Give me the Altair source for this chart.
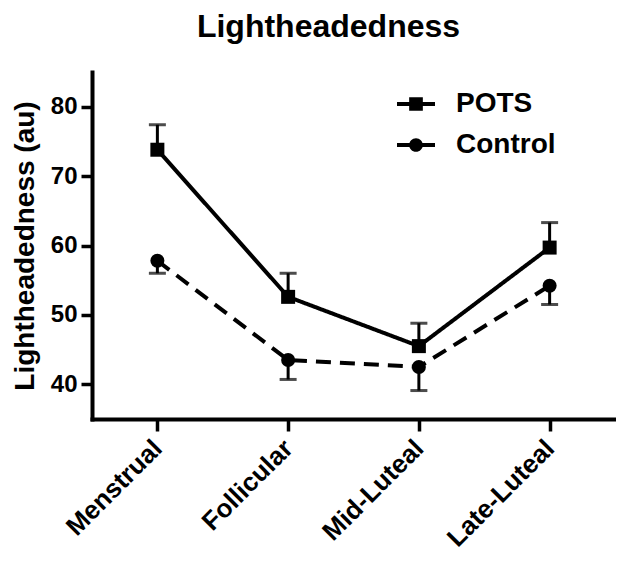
import altair as alt
import pandas as pd

phases = ["Menstrual", "Follicular", "Mid-Luteal", "Late-Luteal"]
groups = ["POTS", "Control"]
pots_mean = [73.8, 52.6, 45.5, 59.7]
pots_sem = [3.6, 3.4, 3.3, 3.6]
control_mean = [57.8, 43.5, 42.5, 54.2]
control_sem = [1.8, 2.8, 3.4, 2.7]
y_ticks = [40, 50, 60, 70, 80]

rows = []
for i, p in enumerate(phases):
    rows.append(dict(phase=p, group="POTS", mean=pots_mean[i], end=pots_mean[i] + pots_sem[i]))
    rows.append(dict(phase=p, group="Control", mean=control_mean[i], end=control_mean[i] - control_sem[i]))
df = pd.DataFrame(rows)

FONT = "Liberation Sans"

x_enc = alt.X(
    "phase:N", sort=phases,
    scale=alt.Scale(type="point", padding=0.5),
    axis=alt.Axis(
        title=None, labelAngle=315, labelAlign="right", labelBaseline="middle",
        labelFontSize=26, labelFontWeight="bold", labelFont=FONT, labelColor="black",
        labelPadding=13, tickSize=12, tickWidth=3.5, tickColor="black",
        domainWidth=4, domainColor="black", domainCap="square", grid=False,
    ),
)
y_scale = alt.Scale(domain=[35, 85], nice=False, zero=False)
y_enc = alt.Y(
    "mean:Q", scale=y_scale,
    axis=alt.Axis(
        values=y_ticks, title="Lightheadedness (au)", titleFontSize=28, titleFontWeight="bold",
        titleFont=FONT, titleColor="black", titlePadding=11,
        labelFontSize=24, labelFontWeight="bold", labelFont=FONT, labelColor="black",
        labelPadding=4, tickSize=11, tickWidth=3.5, tickColor="black",
        domainWidth=4, domainColor="black", domainCap="square", grid=False,
    ),
)

base = alt.Chart(df)

lines = base.mark_line(color="black", strokeWidth=4).encode(
    x=x_enc, y=y_enc,
    strokeDash=alt.StrokeDash("group:N", scale=alt.Scale(domain=groups, range=[[1, 0], [15, 9]]), legend=None),
    detail="group:N",
)

err_rule = base.mark_rule(color="black", strokeWidth=3).encode(
    x=alt.X("phase:N", sort=phases), y=alt.Y("mean:Q"), y2="end:Q"
)
err_cap = base.mark_tick(color="black", size=17, thickness=3, orient="horizontal").encode(
    x=alt.X("phase:N", sort=phases), y=alt.Y("end:Q")
)

points = base.mark_point(filled=True, color="black", opacity=1, size=196).encode(
    x=alt.X("phase:N", sort=phases), y=alt.Y("mean:Q"),
    shape=alt.Shape("group:N", scale=alt.Scale(domain=groups, range=["square", "circle"]), legend=None),
)

pots_sym = "M-1,-0.1H1V0.1H-1Z M-0.36,-0.36H0.36V0.36H-0.36Z"
ctrl_sym = "M-1,-0.1H1V0.1H-1Z M0.36,0A0.36,0.36 0 1,1 -0.36,0A0.36,0.36 0 1,1 0.36,0Z"

legend_layer = base.mark_point(filled=True, color="black", opacity=0).encode(
    x=alt.X("phase:N", sort=phases), y=alt.Y("mean:Q"),
    shape=alt.Shape(
        "group:N",
        scale=alt.Scale(domain=groups, range=[pots_sym, ctrl_sym]),
        legend=alt.Legend(
            title=None, orient="none", legendX=305, legendY=13, padding=0,
            symbolSize=1444, symbolOpacity=1, symbolFillColor="black", symbolStrokeWidth=0,
            labelFontSize=28, labelFontWeight="bold", labelFont=FONT, labelColor="black",
            labelOffset=21, rowPadding=8,
        ),
    ),
)

chart = (
    alt.layer(lines, err_rule, err_cap, points, legend_layer)
    .resolve_scale(shape="independent")
    .resolve_legend(shape="independent")
    .properties(
        width=523, height=347,
        autosize=alt.AutoSizeParams(type="none"),
        padding={"left": 84, "top": 64, "right": 1, "bottom": 135},
        title=alt.TitleParams(
            "Lightheadedness", fontSize=32, fontWeight="bold", font=FONT, color="black",
            anchor="middle", dx=-25, offset=28,
        ),
        background="white",
    )
    .configure_view(stroke=None)
)

chart.save("out.html", embed_options={"renderer": "svg", "actions": False})
